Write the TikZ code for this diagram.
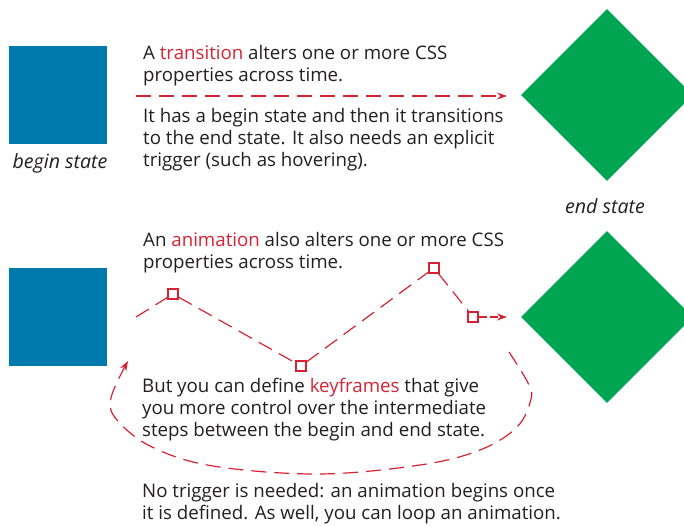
\documentclass[tikz,border=0pt]{standalone}
\usepackage{fontspec}
\setmainfont{Open Sans}
\usetikzlibrary{arrows.meta,shapes.geometric}
\definecolor{cssblue}{RGB}{0,122,172}
\definecolor{cssgreen}{RGB}{0,165,81}
\definecolor{cssred}{RGB}{214,35,52}
\definecolor{ink}{RGB}{35,31,32}
\newcommand{\hl}[1]{\textcolor{cssred}{#1}}
\begin{document}
\begin{tikzpicture}[x=1pt,y=-1pt,
  startbox/.style={fill=cssblue, minimum size=98pt, inner sep=0pt},
  endbox/.style={diamond, fill=cssgreen, minimum width=172pt, minimum height=172pt, inner sep=0pt},
  txt/.style={font=\fontsize{18.7}{22}\selectfont, text=ink, anchor=base west, inner sep=0pt},
  lbl/.style={font=\fontsize{19.6}{22}\selectfont\itshape, text=ink, anchor=base, inner sep=0pt},
  dashline/.style={draw=cssred, line width=1.2pt, dash pattern=on 15pt off 8pt},
  tip/.style={-{Stealth[length=10pt,width=7pt]}},
  keyframe/.style={draw=cssred, fill=white, line width=1.1pt, minimum size=10pt, inner sep=0pt}]
\path[use as bounding box, clip] (0,0) rectangle (684,525);

% transition row
\node[startbox] (beginA) at (58,95) {};
\node[lbl] (beginlbl) at (60,168) {begin state};
\node[endbox] (endA) at (607,95) {};
\node[lbl] (endlbl) at (605,213) {end state};
\node[txt] (tA1) at (143,59) {A \hl{transition} alters one or more CSS};
\node[txt] (tA2) at (143,81) {properties across time.};
\node[txt] (tA3) at (143,122) {It has a begin state and then it transitions};
\node[txt] (tA4) at (143,144) {to the end state. It also needs an explicit};
\node[txt] (tA5) at (143,166) {trigger (such as hovering).};
\coordinate (trS) at (136,96);
\coordinate (trE) at (507,96);
\draw[dashline, tip] (trS) -- (trE);

% animation row
\node[startbox] (beginB) at (58,317) {};
\node[endbox] (endB) at (607,317) {};
\node[txt] (tB1) at (143,246) {An \hl{animation} also alters one or more CSS};
\node[txt] (tB2) at (143,268) {properties across time.};
\node[txt] (tB3) at (142,392) {But you can define \hl{keyframes} that give};
\node[txt] (tB4) at (142,414) {you more control over the intermediate};
\node[txt] (tB5) at (142,436) {steps between the begin and end state.};
\node[txt] (tB6) at (142,497) {No trigger is needed: an animation begins once};
\node[txt] (tB7) at (142,519) {it is defined. As well, you can loop an animation.};

\coordinate (anS) at (136,317);
\node[keyframe] (k1) at (173,294) {};
\node[keyframe] (k2) at (301,366) {};
\node[keyframe] (k3) at (434,268) {};
\node[keyframe] (k4) at (473,317) {};
\coordinate (anE) at (507,317);
\draw[dashline] (anS) -- (k1);
\draw[dashline] (k1) -- (k2);
\draw[dashline] (k2) -- (k3);
\draw[dashline] (k3) -- (k4);
\draw[dashline, tip, dash pattern=on 8pt off 3pt] (k4) -- (anE);

% loop back to the start
\coordinate (lpS) at (509,352);
\coordinate (lpE) at (128,361);
\draw[dashline, tip] plot[smooth, tension=0.6] coordinates
  {(lpS) (528,383) (531,399) (517,427) (480,450) (420,465) (318,474) (213,466) (152,447) (117,420) (111,398) (lpE)};
\end{tikzpicture}
\end{document}
